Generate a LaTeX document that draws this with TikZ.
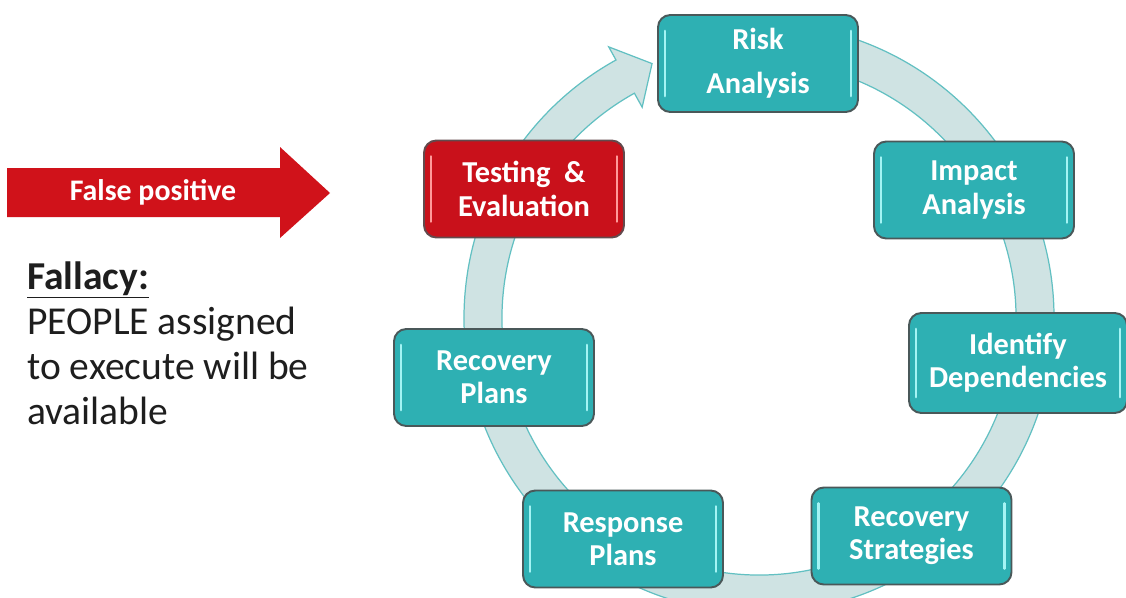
\documentclass[tikz,border=0pt]{standalone}
\usepackage{fontspec}
\setmainfont{Carlito}
\usepackage{tikz}
\usetikzlibrary{positioning, calc}
\definecolor{tealfill}{HTML}{2EB0B3}
\definecolor{tealedge}{HTML}{4A5859}
\definecolor{tealglow}{HTML}{A4F4F4}
\definecolor{alertred}{HTML}{C9111B}
\definecolor{alertglow}{HTML}{FF9A9A}
\definecolor{arrowred}{HTML}{D0121A}
\definecolor{ringfill}{HTML}{CFE3E3}
\definecolor{ringline}{HTML}{62C0C2}
\definecolor{inkdark}{HTML}{1E1E1E}

\begin{document}
\begin{tikzpicture}[
    glow/.style={path picture={
        \draw[#1, line width=1.3pt, line cap=round]
            ([xshift=4pt, yshift=-9pt]path picture bounding box.north west) -- ([xshift=4pt, yshift=9pt]path picture bounding box.south west)
            ([xshift=-4pt, yshift=-9pt]path picture bounding box.north east) -- ([xshift=-4pt, yshift=9pt]path picture bounding box.south east);}},
    cyclebox/.style={rectangle, draw=tealedge, fill=tealfill, rounded corners=7pt, minimum width=4cm, minimum height=1.94cm, align=center, text=white, font=\fontsize{17.3pt}{19pt}\selectfont\bfseries, line width=1.1pt, glow=tealglow},
    alertbox/.style={cyclebox, fill=alertred, draw=tealedge!80!alertred, glow=alertglow},
    band/.style={fill=ringfill, draw=ringline, line width=0.7pt}
]
    \useasboundingbox (0, 0) rectangle (22.52, 11.94);

    % --- Cycle ring with arrow head ---
    \coordinate (hub) at (15.18, 5.58);
    \begin{scope}[shift={(hub)}]
        \draw[band] (85:5.90) arc[start angle=85, end angle=-241, radius=5.90]
            -- (-241:6.20) -- (-247.2:5.52) -- (-241:4.82) -- (-241:5.14)
            arc[start angle=-241, end angle=85, radius=5.14] -- cycle;
    \end{scope}

    % --- Stages on the ring ---
    \node[cyclebox] (risk) at (15.16, 10.67) {Risk\\[6pt]Analysis};
    \node[cyclebox] (impact) at (19.48, 8.14) {Impact\\Analysis};
    \node[cyclebox, minimum width=4.36cm, minimum height=2cm] (ident) at (20.36, 4.68) {Identify\\Dependencies};
    \node[cyclebox] (strat) at (18.23, 1.22) {Recovery\\Strategies};
    \node[cyclebox] (response) at (12.46, 1.16) {Response\\Plans};
    \node[cyclebox] (recplans) at (9.88, 4.39) {Recovery\\Plans};
    \node[alertbox] (testing) at (10.48, 8.16) {Testing \ \&\\Evaluation};

    % --- False positive arrow ---
    \fill[arrowred] (0.14, 8.58) -- (5.60, 8.58) -- (5.60, 9.00) -- (6.60, 8.08)
        -- (5.60, 7.18) -- (5.60, 7.60) -- (0.14, 7.60) -- cycle;
    \node[text=white, font=\fontsize{17pt}{19pt}\selectfont\bfseries] (falsepos) at (3.06, 8.10) {False positive};

    % Fallacy note (anchored on its last line)
    \node[anchor=base west, align=left, inner sep=0pt, text=inkdark, font=\fontsize{22.5pt}{25.6pt}\selectfont] (fallacy) at (0.54, 3.46)
        {\textbf{\underline{Fallacy:}}\\PEOPLE assigned\\to execute will be\\available};
\end{tikzpicture}
\end{document}
